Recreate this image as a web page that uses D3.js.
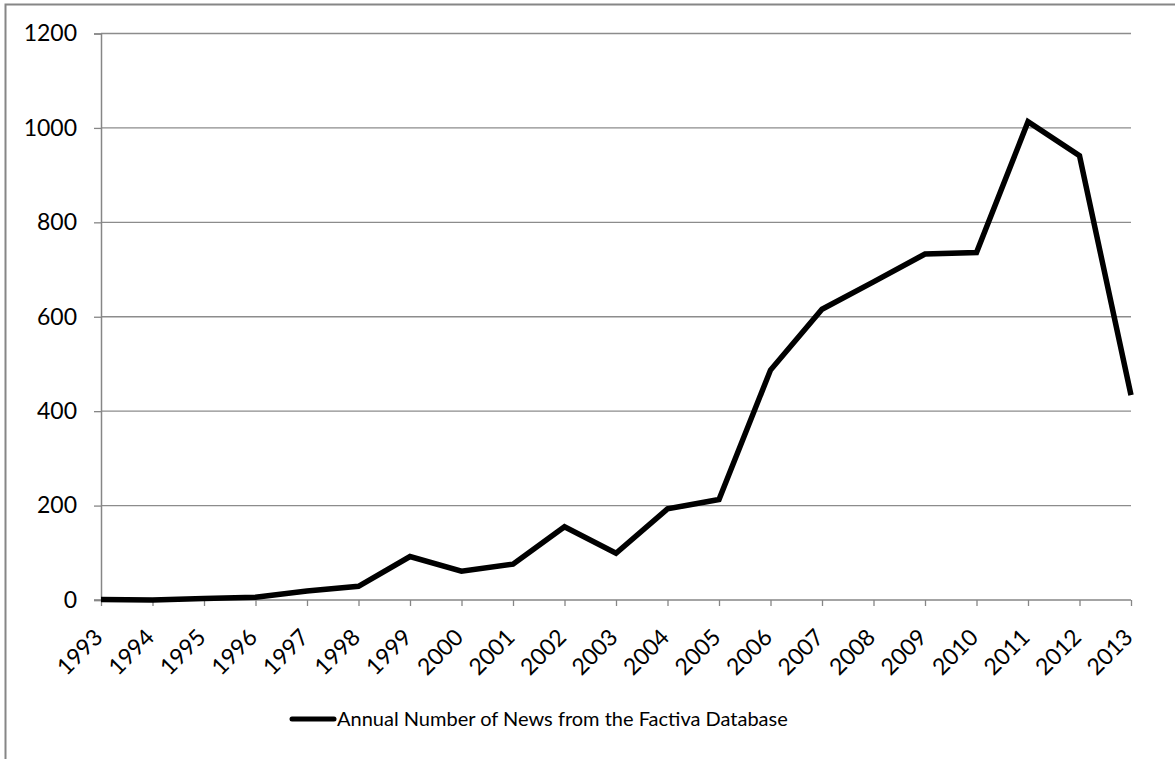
<!DOCTYPE html>
<html>
<head>
<meta charset="utf-8">
<script src="https://cdn.jsdelivr.net/npm/d3@7"></script>
<style>
  html, body { margin: 0; padding: 0; background: #fff; }
  svg { display: block; font-family: Lato, "Open Sans", sans-serif; }
</style>
</head>
<body>
<svg id="chart" width="1175" height="759"></svg>
<script>
// Annual news counts, 1993–2013
const years = ["1993","1994","1995","1996","1997","1998","1999","2000","2001","2002","2003",
               "2004","2005","2006","2007","2008","2009","2010","2011","2012","2013"];
const newsCounts = [1, 0, 3, 6, 19, 29, 92, 61, 76, 155, 99,
                    193, 213, 487, 616, 674, 733, 736, 1013, 941, 434];
const yTicks = [0, 200, 400, 600, 800, 1000, 1200];
const seriesName = "Annual Number of News from the Factiva Database";

const svg = d3.select("#chart");
const plot = { left: 101, right: 1131, top: 33.5, bottom: 600 };
const axisFont = 23;

// outer chart frame
svg.append("rect")
  .attr("x", 5.5).attr("y", 4.5)
  .attr("width", 1175).attr("height", 800)
  .attr("fill", "none").attr("stroke", "#868686").attr("stroke-width", 2);

const x = d3.scalePoint().domain(years).range([plot.left, plot.right]);
const y = d3.scaleLinear().domain([0, 1200]).range([plot.bottom, plot.top]);

// horizontal gridlines
svg.append("g")
  .selectAll("line")
  .data(yTicks.filter(d => d > 0))
  .join("line")
  .attr("x1", plot.left).attr("x2", plot.right)
  .attr("y1", d => y(d)).attr("y2", d => y(d))
  .attr("stroke", "#8c8c8c").attr("stroke-width", 1.3);

// y axis
const yAxis = svg.append("g")
  .attr("transform", `translate(${plot.left},0)`)
  .call(d3.axisLeft(y).tickValues(yTicks).tickFormat(d3.format("d"))
    .tickSize(7).tickPadding(17));
yAxis.select(".domain").attr("stroke", "#868686").attr("stroke-width", 1.5);
yAxis.selectAll(".tick line").attr("stroke", "#868686").attr("stroke-width", 1.3);
yAxis.selectAll(".tick text")
  .attr("font-family", "Lato, 'Open Sans', sans-serif")
  .attr("font-size", axisFont).attr("fill", "#000");

// x axis
const xAxis = svg.append("g")
  .attr("transform", `translate(0,${plot.bottom})`)
  .call(d3.axisBottom(x).tickSize(6).tickSizeOuter(0));
xAxis.select(".domain").attr("stroke", "#868686").attr("stroke-width", 1.5)
  .attr("d", `M${plot.left - 7},0H${plot.right}`);
xAxis.selectAll(".tick line").attr("stroke", "#868686").attr("stroke-width", 1.3);
xAxis.selectAll(".tick text")
  .attr("font-family", "Lato, 'Open Sans', sans-serif")
  .attr("font-size", axisFont).attr("fill", "#000")
  .attr("text-anchor", "end")
  .attr("x", 0).attr("y", 0)
  .attr("dy", "0.35em")
  .attr("transform", "translate(-3,33) rotate(-45)");

// data line
const line = d3.line()
  .x((d, i) => x(years[i]))
  .y(d => y(d));
svg.append("path")
  .datum(newsCounts)
  .attr("d", line)
  .attr("fill", "none")
  .attr("stroke", "#000")
  .attr("stroke-width", 5.5)
  .attr("stroke-linejoin", "miter");

// legend
const legend = svg.append("g").attr("transform", "translate(290,719)");
legend.append("line")
  .attr("x1", 2).attr("x2", 44).attr("y1", 0).attr("y2", 0)
  .attr("stroke", "#000").attr("stroke-width", 5).attr("stroke-linecap", "round");
legend.append("text")
  .attr("x", 47).attr("y", 0).attr("dy", "0.35em")
  .attr("font-size", 20).attr("fill", "#000")
  .text(seriesName);
</script>
</body>
</html>
